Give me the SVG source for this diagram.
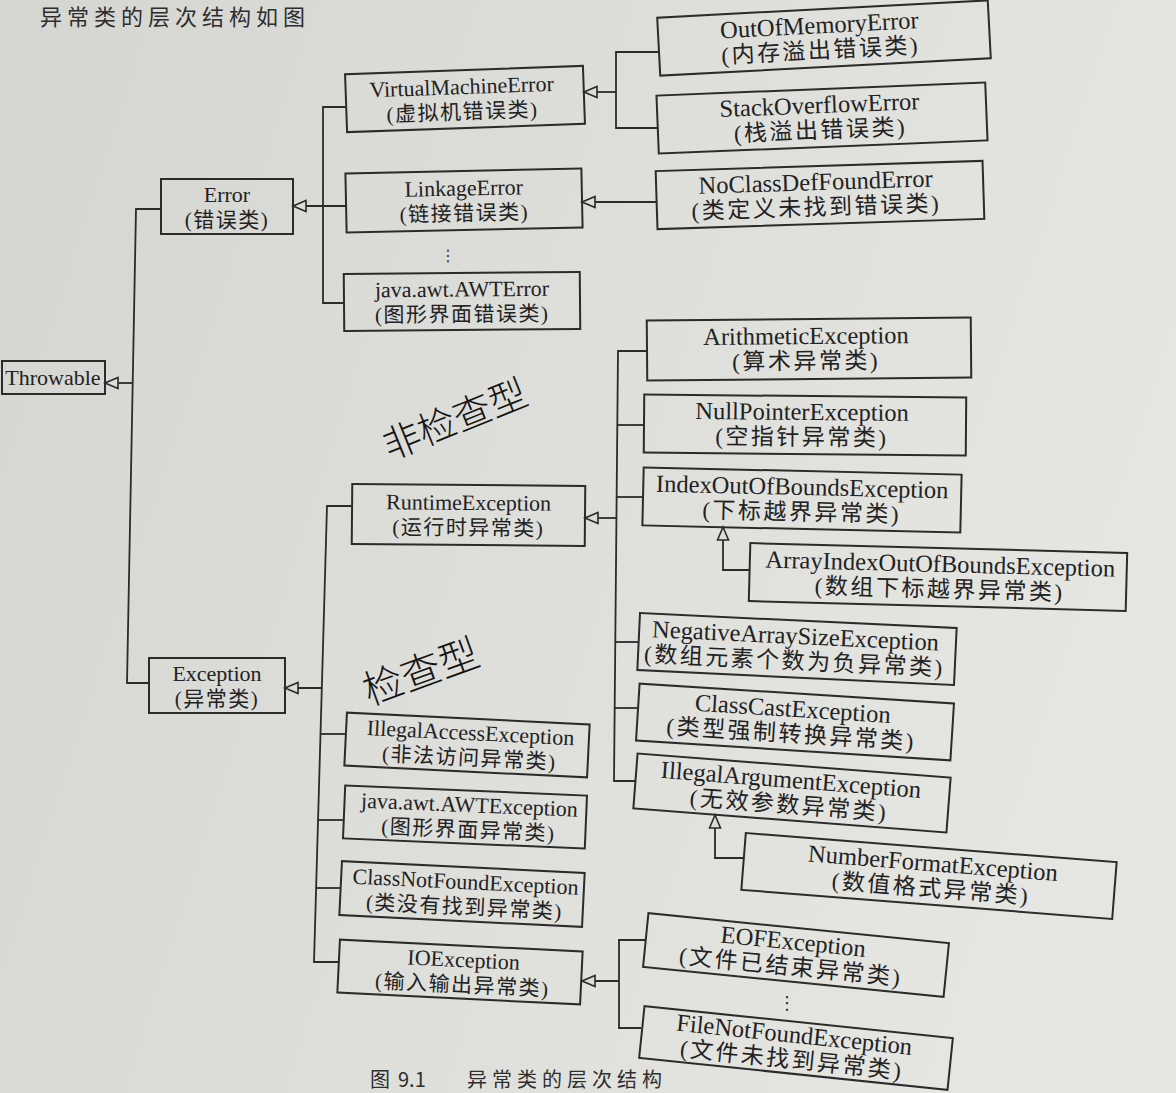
<svg xmlns="http://www.w3.org/2000/svg" width="1176" height="1093" viewBox="0 0 1176 1093">
<defs>
<linearGradient id="bg" x1="0" y1="0" x2="1" y2="0.3">
<stop offset="0" stop-color="#d5d5d2"/>
<stop offset="1" stop-color="#e5e5e1"/>
</linearGradient>
<marker id="tri" markerUnits="userSpaceOnUse" markerWidth="18" markerHeight="14" refX="14" refY="7" orient="auto">
<path d="M1,1.5 L14,7 L1,12.5 Z" fill="#dcdcd8" stroke="#2a2a2a" stroke-width="1.6"/>
</marker>
<style>
.box{fill:none;stroke:#2b2b2b;stroke-width:2}
.L{font-family:"Liberation Serif","Noto Sans CJK SC",serif;font-size:22px;fill:#222;text-anchor:middle}
.R{font-family:"Liberation Serif","Noto Sans CJK SC",serif;font-size:24.5px;fill:#222;text-anchor:middle}
.cl{font-size:21px;letter-spacing:1.5px}
.cr{font-size:23px;letter-spacing:2.5px}
.conn path{fill:none;stroke:#2b2b2b;stroke-width:1.8}
.arr{marker-end:url(#tri)}
.hand{font-family:"Noto Sans CJK SC",sans-serif;font-weight:300;fill:#141414;text-anchor:middle}
.page{font-family:"Noto Sans CJK SC",sans-serif;fill:#2e2e2e}
.dots{font-family:"DejaVu Sans",sans-serif;fill:#333;text-anchor:middle}
</style>
</defs>
<rect x="0" y="0" width="1176" height="1093" fill="url(#bg)"/>

<text class="page" x="40" y="25" font-size="22" letter-spacing="5">异常类的层次结构如图</text>

<g id="connectors" class="conn">
<!-- Throwable -->
<path d="M161,209 H136 L127,683 H149"/>
<path class="arr" d="M133,383 H105"/>
<!-- Error -->
<path d="M346,107 H323 V303 H344"/>
<path class="arr" d="M346,206 H293"/>
<!-- VirtualMachineError -->
<path d="M659,52 H616 V128 H658"/>
<path class="arr" d="M616,92 H584"/>
<!-- LinkageError -->
<path class="arr" d="M656,202 H582"/>
<!-- Exception -->
<path d="M352,506 H327 L314,962 H339"/>
<path d="M320.5,734 H346"/>
<path d="M318,820 H344"/>
<path d="M316,888 H341"/>
<path class="arr" d="M322,688 H285"/>
<!-- RuntimeException -->
<path d="M647,351 H618 L614,781 H635"/>
<path d="M617.2,425 H644"/>
<path d="M616.5,497 H643"/>
<path d="M615.3,642 H639"/>
<path d="M614.7,708 H637"/>
<path class="arr" d="M617,518 H585"/>
<!-- IndexOutOfBounds -->
<path class="arr" d="M750,570 H723 V527"/>
<!-- IllegalArgument -->
<path class="arr" d="M743,858 H715 V815"/>
<!-- IOException -->
<path d="M645,940 H619 V1028 H641"/>
<path class="arr" d="M619,981 H582"/>
</g>

<g id="n-throwable"><rect class="box" x="2" y="361" width="103" height="33"/><text class="L" x="53" y="385">Throwable</text></g>

<g id="n-error"><rect class="box" x="161" y="179" width="132" height="55"/><text class="L" x="227" y="201.5">Error</text><text class="L cl" x="227" y="226.5">(错误类)</text></g>

<g id="n-vme" transform="rotate(-2 465 99)"><rect class="box" x="346" y="70" width="238" height="58"/><text class="L" x="462" y="94">VirtualMachineError</text><text class="L cl" x="462" y="119">(虚拟机错误类)</text></g>

<g id="n-linkage" transform="rotate(-1.2 464 200.5)"><rect class="box" x="346" y="171" width="236" height="59"/><text class="L" x="464" y="195.5">LinkageError</text><text class="L cl" x="464" y="220.5">(链接错误类)</text></g>

<text class="dots" x="448" y="261" font-size="16">⋮</text>

<g id="n-awterror" transform="rotate(-0.5 462 301.5)"><rect class="box" x="344" y="273" width="236" height="57"/><text class="L" x="462" y="296.5">java.awt.AWTError</text><text class="L cl" x="462" y="321.5">(图形界面错误类)</text></g>

<g id="n-runtime" transform="rotate(0.5 468.5 515)"><rect class="box" x="352" y="485" width="233" height="60"/><text class="L" x="468.5" y="510">RuntimeException</text><text class="L cl" x="468.5" y="535">(运行时异常类)</text></g>

<g id="n-exception"><rect class="box" x="149" y="658" width="136" height="55"/><text class="L" x="217" y="680.5">Exception</text><text class="L cl" x="217" y="705.5">(异常类)</text></g>

<g id="n-illegalaccess" transform="rotate(2.8 467 745)"><rect class="box" x="345.5" y="718.5" width="243" height="53"/><text class="L" x="470" y="740">IllegalAccessException</text><text class="L cl" x="470" y="765">(非法访问异常类)</text></g>

<g id="n-awtexception" transform="rotate(2.4 465 817)"><rect class="box" x="344" y="790.5" width="242" height="53"/><text class="L" x="469" y="812">java.awt.AWTException</text><text class="L cl" x="469" y="837">(图形界面异常类)</text></g>

<g id="n-classnotfound" transform="rotate(2.8 462 894)"><rect class="box" x="340.5" y="867" width="243" height="54"/><text class="L" x="465" y="889">ClassNotFoundException</text><text class="L cl" x="465" y="914">(类没有找到异常类)</text></g>

<g id="n-io" transform="rotate(2.8 460 972)"><rect class="box" x="338.5" y="945.5" width="243" height="53"/><text class="L" x="463" y="967">IOException</text><text class="L cl" x="463" y="992">(输入输出异常类)</text></g>

<g id="n-oom" transform="rotate(-3 824 38)"><rect class="box" x="658.5" y="9" width="331" height="58"/><text class="R" x="820" y="33">OutOfMemoryError</text><text class="R cr" x="820" y="58">(内存溢出错误类)</text></g>

<g id="n-soe" transform="rotate(-2.3 822 118)"><rect class="box" x="657.5" y="89" width="329" height="58"/><text class="R" x="820" y="113">StackOverflowError</text><text class="R cr" x="820" y="138">(栈溢出错误类)</text></g>

<g id="n-noclassdef" transform="rotate(-1.8 820 195)"><rect class="box" x="656.5" y="166" width="327" height="58"/><text class="R" x="816" y="190">NoClassDefFoundError</text><text class="R cr" x="816" y="215">(类定义未找到错误类)</text></g>

<g id="n-arith" transform="rotate(-0.5 809 349)"><rect class="box" x="647" y="319" width="324" height="60"/><text class="R" x="806" y="344">ArithmeticException</text><text class="R cr" x="806" y="369">(算术异常类)</text></g>

<g id="n-nullptr" transform="rotate(0.5 805 425)"><rect class="box" x="644" y="396" width="322" height="58"/><text class="R" x="802" y="420">NullPointerException</text><text class="R cr" x="802" y="445">(空指针异常类)</text></g>

<g id="n-indexoob" transform="rotate(1.3 802 500)"><rect class="box" x="643" y="471" width="318" height="58"/><text class="R" x="802" y="495">IndexOutOfBoundsException</text><text class="R cr" x="802" y="520">(下标越界异常类)</text></g>

<g id="n-arrayindex" transform="rotate(1.5 938 577)"><rect class="box" x="749.5" y="548" width="377" height="58"/><text class="R" x="940" y="572">ArrayIndexOutOfBoundsException</text><text class="R cr" x="940" y="597">(数组下标越界异常类)</text></g>

<g id="n-negarray" transform="rotate(2.7 797 649)"><rect class="box" x="638.5" y="620.5" width="317" height="57"/><text class="R" x="795" y="644">NegativeArraySizeException</text><text class="R cr" x="795" y="669" letter-spacing="1">(数组元素个数为负异常类)</text></g>

<g id="n-classcast" transform="rotate(3.6 795 722)"><rect class="box" x="637.5" y="693.5" width="315" height="57"/><text class="R" x="792" y="717">ClassCastException</text><text class="R cr" x="792" y="742">(类型强制转换异常类)</text></g>

<g id="n-illegalarg" transform="rotate(4.4 792 793)"><rect class="box" x="635" y="765.5" width="314" height="55"/><text class="R" x="790" y="788">IllegalArgumentException</text><text class="R cr" x="790" y="813">(无效参数异常类)</text></g>

<g id="n-numberformat" transform="rotate(4.5 929 876)"><rect class="box" x="743" y="847.5" width="372" height="57"/><text class="R" x="932" y="871">NumberFormatException</text><text class="R cr" x="932" y="896">(数值格式异常类)</text></g>

<g id="n-eof" transform="rotate(5.7 796 955)"><rect class="box" x="645" y="928" width="302" height="54"/><text class="R" x="792" y="950">EOFException</text><text class="R cr" x="792" y="975">(文件已结束异常类)</text></g>

<text class="dots" x="787" y="1009" font-size="18">⋮</text>

<g id="n-fnf" transform="rotate(5.9 796 1048)"><rect class="box" x="641" y="1022" width="310" height="52"/><text class="R" x="793" y="1043">FileNotFoundException</text><text class="R cr" x="793" y="1068">(文件未找到异常类)</text></g>

<text class="hand" x="455" y="433" font-size="38" transform="rotate(-22 455 420)">非检查型</text>
<text class="hand" x="421" y="686" font-size="40" transform="rotate(-20 421 672)">检查型</text>

<text class="page" x="370" y="1087" font-size="20">图<tspan x="398">9.1</tspan><tspan x="467" letter-spacing="5">异常类的层次结构</tspan></text>
</svg>
